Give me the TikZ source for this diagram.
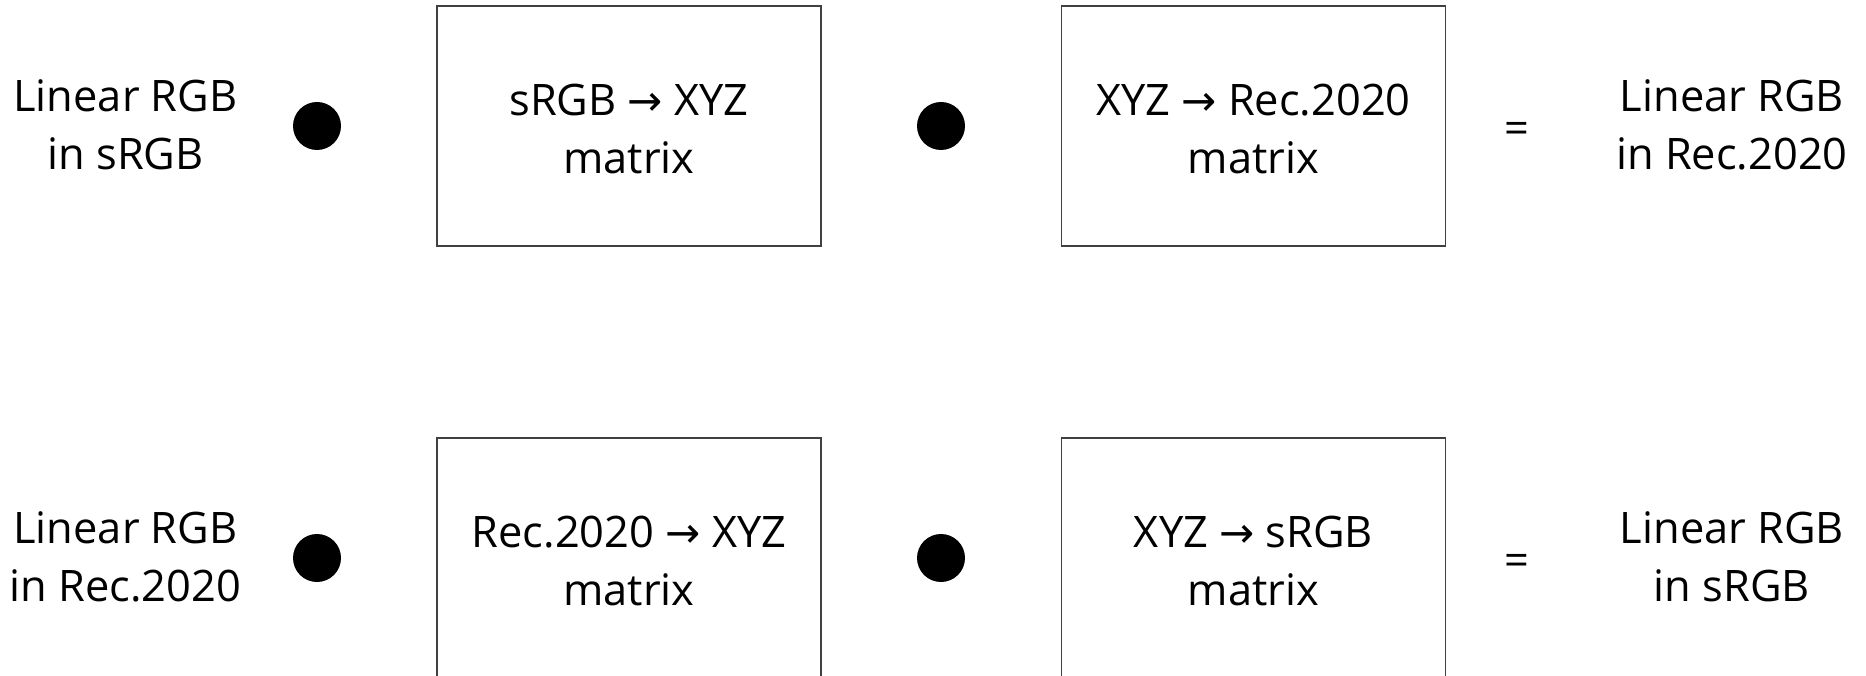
\documentclass[tikz,border=0pt]{standalone}
\usepackage{fontspec}
\setmainfont{Open Sans}
\newfontfamily\symfont{DejaVu Sans}
\newcommand{\maparrow}{{\symfont\fontsize{21}{29}\selectfont →}}
\usepackage{tikz}
\usetikzlibrary{positioning}
\tikzset{
  space/.style={align=center, inner sep=0pt},
  matbox/.style={draw=black!75, line width=0.6pt, minimum width=192pt,
                 minimum height=120pt, inner sep=0pt},
  mul/.style={circle, fill=black, minimum size=24pt, inner sep=0pt},
  eq/.style={inner sep=0pt}
}

\begin{document}
\begin{tikzpicture}[x=0.5pt,y=0.5pt,font=\fontsize{21.7}{29}\selectfont]
  \useasboundingbox (0,0) rectangle (1866,675);
  \clip (0,0) rectangle (1866,675);

  % sRGB to Rec.2020
  \node[space] (srcA) at (125.5,550) {Linear RGB\\in sRGB};
  \node[mul] (mulA1) at (317,549) {};
  \node[matbox] (toxyzA) at (629,549) {};
  \node[space] (toxyzAtxt) at (629,546) {sRGB \maparrow{} XYZ\\matrix};
  \node[mul] (mulA2) at (941,549) {};
  \node[matbox] (fromxyzA) at (1253.5,549) {};
  \node[space] (fromxyzAtxt) at (1253.5,546) {XYZ \maparrow{} Rec.2020\\matrix};
  \node[eq] (eqA) at (1517,542) {=};
  \node[space] (dstA) at (1732,550) {Linear RGB\\in Rec.2020};

  % Rec.2020 to sRGB
  \node[space] (srcB) at (125.5,118) {Linear RGB\\in Rec.2020};
  \node[mul] (mulB1) at (317,117) {};
  \node[matbox] (toxyzB) at (629,117) {};
  \node[space] (toxyzBtxt) at (629,114) {Rec.2020 \maparrow{} XYZ\\matrix};
  \node[mul] (mulB2) at (941,117) {};
  \node[matbox] (fromxyzB) at (1253.5,117) {};
  \node[space] (fromxyzBtxt) at (1253.5,114) {XYZ \maparrow{} sRGB\\matrix};
  \node[eq] (eqB) at (1517,110) {=};
  \node[space] (dstB) at (1732,118) {Linear RGB\\in sRGB};
\end{tikzpicture}
\end{document}
